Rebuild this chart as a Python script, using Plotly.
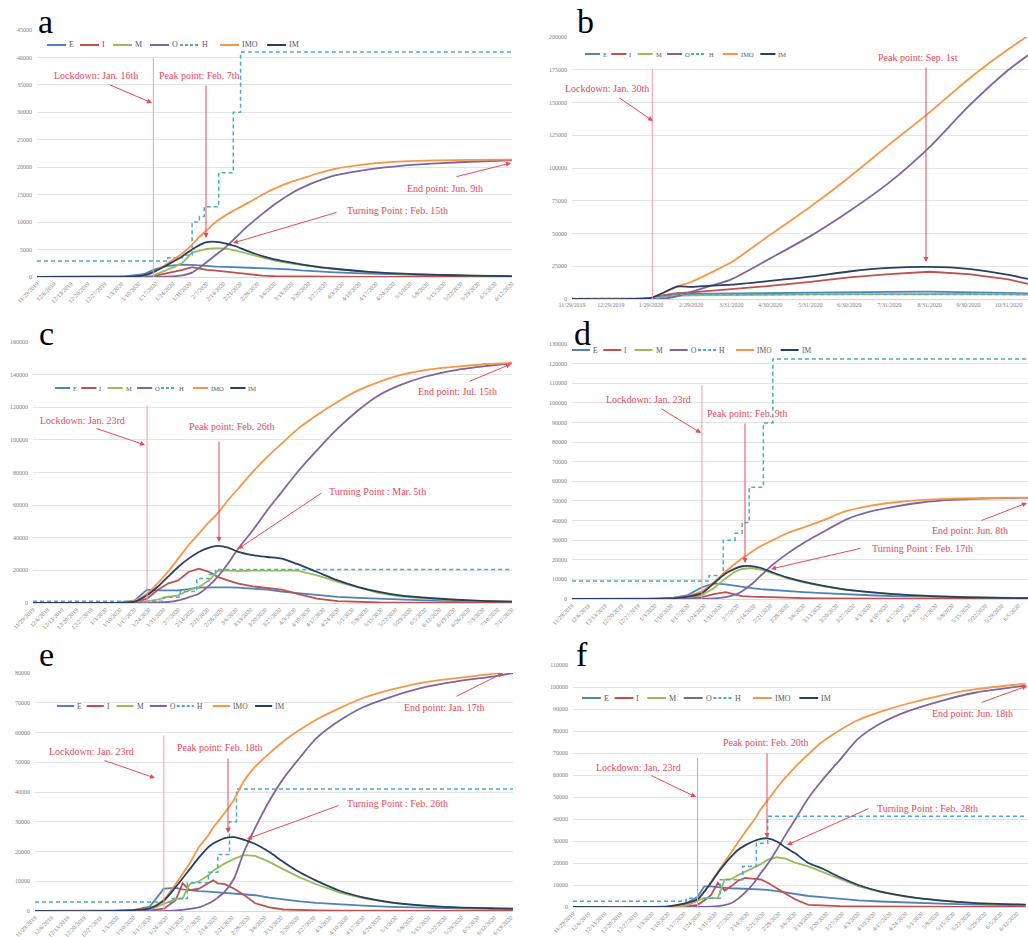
import plotly.graph_objects as go

W, H = 1028, 937
SERIES = ["E", "I", "M", "O", "H", "IMO", "IM"]
COLORS = {"E": "#4f81bd", "I": "#c0504d", "M": "#9bbb59", "O": "#8064a2",
          "H": "#4bacc6", "IMO": "#f79646", "IM": "#263f63"}
RED = "#e8485a"
LOCKC = "#f39aa6"
SERIF = "Liberation Serif"

# ---------------- panel a ----------------
a_dates = ["2019-11-29", "2019-12-20", "2020-01-05", "2020-01-12", "2020-01-16", "2020-01-21",
           "2020-01-25", "2020-01-28", "2020-02-01", "2020-02-04", "2020-02-07", "2020-02-11",
           "2020-02-15", "2020-02-19", "2020-02-24", "2020-03-01", "2020-03-06", "2020-03-12",
           "2020-03-17", "2020-03-24", "2020-03-31", "2020-04-14", "2020-04-28", "2020-05-12",
           "2020-05-26", "2020-06-12"]
a_E = [0, 10, 150, 500, 1300, 2000, 2200, 2250, 2200, 2100, 1950, 1900, 1850, 1800, 1700, 1600,
       1500, 1400, 1200, 1000, 850, 600, 420, 300, 200, 130]
a_I = [0, 0, 10, 50, 150, 600, 1000, 1300, 1800, 1500, 1300, 1150, 950, 800, 500, 250, 150, 100,
       80, 60, 50, 40, 30, 20, 15, 10]
a_M = [0, 0, 20, 100, 300, 1200, 1900, 2600, 4400, 4800, 5100, 5250, 5150, 4800, 4200, 3500, 3000,
       2550, 2200, 1750, 1420, 900, 570, 380, 240, 125]
a_O = [0, 0, 0, 0, 0, 50, 150, 300, 800, 1700, 2700, 4100, 5500, 7200, 9300, 11500, 13200, 15000,
       16200, 17500, 18500, 19600, 20300, 20700, 21000, 21250]
a_IMO = [0, 0, 50, 250, 900, 2200, 3400, 4300, 5900, 7300, 8500, 10100, 11300, 12300, 13500, 15000,
         16100, 17200, 17900, 18900, 19700, 20600, 21050, 21250, 21330, 21400]
a_IM = [0, 0, 50, 300, 900, 2000, 3000, 3800, 5000, 5800, 6350, 6400, 6100, 5600, 4700, 3800, 3200,
        2700, 2300, 1850, 1500, 950, 600, 400, 250, 130]
a_H_dates = ["2019-11-29", "2020-01-22", "2020-01-28", "2020-02-01", "2020-02-04", "2020-02-06",
             "2020-02-12", "2020-02-18", "2020-02-21", "2020-06-12"]
a_H = [2900, 3500, 4000, 10000, 11000, 12800, 19000, 30000, 41000, 41000]

# ---------------- panel b ----------------
b_dates = ["2019-11-29", "2020-01-15", "2020-01-29", "2020-02-08", "2020-02-18", "2020-02-29",
           "2020-03-15", "2020-03-31", "2020-04-30", "2020-05-31", "2020-06-30", "2020-07-31",
           "2020-08-31", "2020-09-30", "2020-10-31", "2020-11-15"]
b_E = [0, 0, 500, 2500, 3500, 3800, 4000, 4200, 4500, 5000, 5300, 5500, 5600, 5300, 4800, 4300]
b_I = [0, 0, 300, 3000, 4500, 5000, 6000, 7500, 10000, 13000, 16500, 19000, 20800, 19000, 15000, 11500]
b_M = [0, 0, 200, 1500, 2500, 2800, 3000, 3100, 3300, 3500, 3700, 3900, 4000, 3800, 3500, 3300]
b_O = [0, 0, 0, 300, 2000, 5500, 10000, 15000, 31000, 48000, 67000, 89000, 116000, 147000, 175000, 186000]
b_IMO = [0, 0, 800, 5000, 9500, 13000, 20000, 28000, 49000, 70500, 93000, 118000, 142500, 167800,
         190800, 200800]
b_IM = [0, 0, 800, 5000, 9500, 9300, 10200, 11000, 13800, 17000, 21000, 23700, 24500, 23000, 18400, 15300]
b_H_dates = ["2019-11-29", "2020-02-05", "2020-02-15", "2020-11-15"]
b_H = [300, 2000, 3500, 3500]
b_tickvals = ["2019-11-29", "2019-12-29", "2020-01-29", "2020-02-29", "2020-03-31", "2020-04-30",
              "2020-05-31", "2020-06-30", "2020-07-31", "2020-08-31", "2020-09-30", "2020-10-31"]
b_ticktext = ["11/29/2019", "12/29/2019", "1/29/2020", "2/29/2020", "3/31/2020", "4/30/2020",
              "5/31/2020", "6/30/2020", "7/31/2020", "8/31/2020", "9/30/2020", "10/31/2020"]

# ---------------- panel c ----------------
c_dates = ["2019-11-29", "2019-12-31", "2020-01-10", "2020-01-17", "2020-01-23", "2020-01-28",
           "2020-02-02", "2020-02-07", "2020-02-12", "2020-02-17", "2020-02-22", "2020-02-26",
           "2020-03-02", "2020-03-07", "2020-03-14", "2020-03-21", "2020-03-28", "2020-04-04",
           "2020-04-14", "2020-04-24", "2020-05-04", "2020-05-14", "2020-05-24", "2020-06-05",
           "2020-06-20", "2020-07-05", "2020-07-17"]
c_E = [0, 0, 100, 1600, 8200, 7800, 7800, 7800, 8500, 9400, 9600, 9800, 9600, 9400, 9000, 8200, 7000,
       6100, 4700, 3800, 3100, 2600, 2000, 1600, 1200, 1000, 800]
c_I = [0, 0, 0, 200, 2700, 7800, 11900, 13900, 19000, 21000, 19000, 16000, 13900, 11900, 10200, 9400,
       8200, 5700, 2700, 1200, 600, 300, 200, 100, 50, 30, 20]
c_M = [0, 0, 0, 100, 1000, 2000, 3700, 4700, 7800, 9800, 13900, 19600, 20000, 19600, 19800, 19600,
       19800, 20000, 17000, 12900, 9400, 6100, 4100, 2700, 1600, 1000, 800]
c_O = [0, 0, 0, 0, 0, 300, 600, 1600, 3500, 5700, 10800, 16000, 24100, 33400, 44600, 56900, 68100,
       79400, 93700, 107000, 118300, 127500, 133600, 138700, 142800, 145300, 146900]
c_IMO = [0, 0, 100, 1500, 5700, 11900, 19000, 27200, 35400, 42600, 49700, 54800, 63000, 70200, 80400,
         89600, 97800, 106000, 115200, 123400, 130500, 135600, 139700, 142800, 144900, 146500, 147300]
c_IM = [0, 0, 100, 800, 4700, 9800, 16000, 22100, 27200, 31300, 34000, 35000, 34000, 31300, 29300,
        28200, 27200, 24100, 19000, 13900, 9800, 6800, 4700, 3300, 2000, 1200, 800]
c_H_dates = ["2019-11-29", "2020-01-31", "2020-02-08", "2020-02-16", "2020-02-22", "2020-02-25",
             "2020-07-17"]
c_H = [1000, 3500, 7000, 15000, 17500, 20500, 20500]

# ---------------- panel d ----------------
d_dates = ["2019-11-29", "2019-12-31", "2020-01-10", "2020-01-17", "2020-01-23", "2020-01-28",
           "2020-02-02", "2020-02-06", "2020-02-09", "2020-02-13", "2020-02-17", "2020-02-22",
           "2020-02-28", "2020-03-06", "2020-03-14", "2020-03-24", "2020-04-03", "2020-04-13",
           "2020-04-25", "2020-05-08", "2020-05-22", "2020-06-09"]
d_E = [0, 0, 500, 2000, 6000, 8000, 7500, 6700, 6000, 5500, 5000, 4500, 4000, 3500, 3000, 2300, 1900,
       1500, 1200, 900, 700, 500]
d_I = [0, 0, 0, 300, 1000, 2500, 3500, 2500, 1500, 1200, 1000, 800, 600, 450, 300, 200, 150, 100, 80,
       60, 50, 40]
d_M = [0, 0, 200, 800, 2000, 5500, 10500, 14000, 15300, 15800, 15000, 13000, 10600, 8500, 6600, 4700,
       3400, 2400, 1650, 1050, 680, 380]
d_O = [0, 0, 0, 0, 0, 300, 1000, 2200, 4000, 7500, 12000, 17500, 23000, 28500, 34000, 40500, 44500,
       47000, 49200, 50500, 51200, 51600]
d_IMO = [0, 0, 300, 1500, 4000, 8500, 14000, 18000, 20800, 24000, 27000, 30000, 33500, 36500, 40000,
         44800, 47500, 49200, 50500, 51200, 51500, 51700]
d_IM = [0, 0, 300, 1200, 3000, 8000, 13000, 15500, 16700, 16800, 15800, 13500, 11000, 8800, 6800,
        4800, 3500, 2500, 1700, 1100, 700, 400]
d_H_dates = ["2019-11-29", "2020-01-26", "2020-02-01", "2020-02-06", "2020-02-09", "2020-02-12",
             "2020-02-18", "2020-02-22", "2020-06-09"]
d_H = [9200, 12000, 30000, 33500, 39000, 57000, 89700, 122400, 122400]

# ---------------- panel e ----------------
e_dates = ["2019-11-29", "2019-12-31", "2020-01-10", "2020-01-17", "2020-01-23", "2020-01-28",
           "2020-01-31", "2020-02-03", "2020-02-07", "2020-02-11", "2020-02-13", "2020-02-15",
           "2020-02-18", "2020-02-22", "2020-02-26", "2020-03-02", "2020-03-08", "2020-03-14",
           "2020-03-21", "2020-03-28", "2020-04-07", "2020-04-17", "2020-04-29", "2020-05-12",
           "2020-05-27", "2020-06-12", "2020-06-20"]
e_E = [0, 0, 300, 1500, 7500, 7800, 7300, 7000, 6700, 6500, 6400, 6300, 6200, 6000, 5700, 5300, 4500,
       3800, 3200, 2700, 2200, 1800, 1400, 1100, 900, 700, 600]
e_I = [0, 0, 0, 200, 800, 3600, 9300, 7000, 7500, 9500, 10300, 9300, 9000, 7500, 5500, 2600, 1200,
       500, 300, 200, 150, 120, 100, 80, 60, 50, 40]
e_M = [0, 0, 100, 500, 2500, 4000, 4200, 9000, 10000, 12000, 13500, 14500, 16000, 17500, 18800, 18500,
       16500, 14000, 11300, 9000, 6200, 4300, 2750, 1800, 1150, 850, 750]
e_O = [0, 0, 0, 0, 0, 200, 400, 700, 1200, 2500, 3400, 4500, 6500, 11000, 19500, 28000, 37000, 44500,
       51500, 58000, 64000, 68500, 72000, 75000, 77200, 78900, 80000]
e_IMO = [0, 0, 400, 1000, 3800, 9000, 12500, 16000, 21500, 25500, 28000, 30000, 33000, 37500, 43500,
         48500, 53000, 57000, 60900, 64300, 68200, 71600, 74400, 76700, 78300, 79800, 80800]
e_IM = [0, 0, 300, 900, 3500, 8000, 11000, 14000, 18000, 21500, 22700, 23500, 24500, 24800, 24000,
        22500, 19800, 16500, 13000, 10200, 6800, 4600, 2900, 1900, 1200, 900, 800]
e_H_dates = ["2019-11-29", "2020-01-26", "2020-02-02", "2020-02-11", "2020-02-15", "2020-02-20",
             "2020-02-23", "2020-06-20"]
e_H = [3000, 4200, 9500, 13000, 19000, 30000, 41000, 41000]

# ---------------- panel f ----------------
f_dates = ["2019-11-29", "2019-12-31", "2020-01-10", "2020-01-17", "2020-01-23", "2020-01-26",
           "2020-01-29", "2020-02-01", "2020-02-04", "2020-02-07", "2020-02-10", "2020-02-13",
           "2020-02-17", "2020-02-20", "2020-02-23", "2020-02-27", "2020-03-02", "2020-03-06",
           "2020-03-12", "2020-03-18", "2020-03-26", "2020-04-03", "2020-04-13", "2020-04-25",
           "2020-05-09", "2020-05-25", "2020-06-16"]
f_E = [0, 0, 200, 1000, 4500, 9400, 9400, 9000, 8600, 8500, 8400, 8300, 8200, 8000, 7800, 7200, 6500,
       5800, 5000, 4500, 3700, 3000, 2500, 2000, 1500, 1100, 800]
f_I = [0, 0, 0, 100, 1000, 3000, 5500, 11000, 7500, 9500, 12000, 13200, 12800, 12500, 11000, 8500,
       6000, 3500, 1000, 600, 400, 300, 200, 150, 100, 100, 80]
f_M = [0, 0, 100, 500, 3000, 4000, 4000, 4100, 12500, 12800, 14500, 16000, 18000, 19500, 21500, 22600,
       22000, 20200, 18500, 16000, 13000, 9500, 6800, 4500, 2900, 1700, 1000]
f_O = [0, 0, 0, 0, 50, 100, 200, 400, 900, 1800, 3800, 6500, 11000, 15500, 19500, 26000, 33000, 39500,
       49500, 57500, 67000, 76500, 83500, 89000, 93500, 97500, 100600]
f_IMO = [0, 0, 100, 500, 3000, 7000, 11500, 16000, 20500, 25000, 29500, 34000, 39500, 44500, 48500,
         54000, 59000, 63500, 69500, 75000, 80500, 85000, 88800, 92500, 96000, 99000, 101500]
f_IM = [0, 0, 300, 1500, 3500, 7000, 11000, 15500, 19500, 23000, 26000, 28000, 30000, 31000, 31200,
        29800, 27000, 24500, 20000, 17500, 13500, 10000, 7000, 4700, 3000, 1800, 1100]
f_H_dates = ["2019-11-29", "2020-01-18", "2020-02-02", "2020-02-12", "2020-02-18", "2020-02-23",
             "2020-06-16"]
f_H = [2600, 4000, 12400, 18500, 29000, 41200, 41200]

DATA = {
    "a": dict(dates=a_dates, E=a_E, I=a_I, M=a_M, O=a_O, IMO=a_IMO, IM=a_IM, Hd=a_H_dates, H=a_H),
    "b": dict(dates=b_dates, E=b_E, I=b_I, M=b_M, O=b_O, IMO=b_IMO, IM=b_IM, Hd=b_H_dates, H=b_H),
    "c": dict(dates=c_dates, E=c_E, I=c_I, M=c_M, O=c_O, IMO=c_IMO, IM=c_IM, Hd=c_H_dates, H=c_H),
    "d": dict(dates=d_dates, E=d_E, I=d_I, M=d_M, O=d_O, IMO=d_IMO, IM=d_IM, Hd=d_H_dates, H=d_H),
    "e": dict(dates=e_dates, E=e_E, I=e_I, M=e_M, O=e_O, IMO=e_IMO, IM=e_IM, Hd=e_H_dates, H=e_H),
    "f": dict(dates=f_dates, E=f_E, I=f_I, M=f_M, O=f_O, IMO=f_IMO, IM=f_IM, Hd=f_H_dates, H=f_H),
}

# layout of each panel (pixel boxes: left, right, top, bottom)
PANELS = [
    dict(key="a", box=(37, 512, 30, 277), ymax=45000, dtick=5000, xend="2020-06-12",
         lock="2020-01-16", locktop=40000, letter=(45, 21), legend=(47, 251, 45, 8)),
    dict(key="b", box=(572, 1028, 37, 299), ymax=200000, dtick=25000, xend="2020-11-15",
         lock="2020-01-30", locktop=175500, letter=(585, 21), legend=(585, 200, 54, 6.5)),
    dict(key="c", box=(33, 512, 342, 603), ymax=160000, dtick=20000, xend="2020-07-17",
         lock="2020-01-23", locktop=120800, letter=(46, 334), legend=(55, 200, 388, 6.5)),
    dict(key="d", box=(572, 1028, 344, 599), ymax=130000, dtick=10000, xend="2020-06-09",
         lock="2020-01-23", locktop=109000, letter=(582, 334), legend=(572, 238, 350, 7.5)),
    dict(key="e", box=(35, 513, 673, 911), ymax=80000, dtick=10000, xend="2020-06-20",
         lock="2020-01-23", locktop=59000, letter=(46, 654), legend=(57, 226, 706, 7.5)),
    dict(key="f", box=(573, 1028, 665, 907), ymax=110000, dtick=10000, xend="2020-06-17",
         lock="2020-01-23", locktop=67700, letter=(582, 654), legend=(582, 248, 698, 8)),
]

NOTES = {
    "a": [("Lockdown: Jan. 16th", 96, 75, (108, 84), (152, 103)),
          ("Peak point: Feb. 7th", 199, 75, (206, 84), (206, 238)),
          ("Turning Point : Feb. 15th", 397, 210, (338, 212), (233, 243)),
          ("End point: Jun. 9th", 445, 189, (455, 177), (511, 163))],
    "b": [("Lockdown: Jan. 30th", 607, 88, (618, 97), (653, 121)),
          ("Peak point: Sep. 1st", 918, 57, (926, 66), (926, 262))],
    "c": [("Lockdown: Jan. 23rd", 82, 420, (95, 428), (145, 445)),
          ("Peak point: Feb. 26th", 232, 426, (219, 440), (219, 542)),
          ("Turning Point : Mar. 5th", 377, 492, (323, 492), (238, 549)),
          ("End point: Jul. 15th", 457, 391, (468, 382), (511, 364))],
    "d": [("Lockdown: Jan. 23rd", 648, 399, (660, 408), (701, 433)),
          ("Peak point: Feb. 9th", 747, 413, (745, 422), (745, 563)),
          ("Turning Point : Feb. 17th", 922, 548, (862, 548), (771, 569)),
          ("End point: Jun. 8th", 970, 530, (980, 521), (1027, 503))],
    "e": [("Lockdown: Jan. 23rd", 91, 751, (103, 760), (155, 778)),
          ("Peak point: Feb. 18th", 220, 747, (228, 757), (228, 833)),
          ("Turning Point : Feb. 26th", 397, 803, (340, 805), (247, 839)),
          ("End point: Jan. 17th", 444, 707, (455, 697), (503, 673))],
    "f": [("Lockdown: Jan. 23rd", 638, 767, (650, 775), (696, 797)),
          ("Peak point: Feb. 20th", 766, 742, (767, 752), (767, 838)),
          ("Turning Point : Feb. 28th", 927, 808, (870, 808), (787, 845)),
          ("End point: Jun. 18th", 972, 713, (980, 703), (1027, 686))],
}

LEG_REL = [0, 33, 66, 103, 133, 173, 220]  # item offsets in a 251px-wide legend
LEG_LINE = 19


def px(x):
    return x / W


def py(y):
    return 1 - y / H


fig = go.Figure()
shapes, annotations = [], []
layout = {}

for k, p in enumerate(PANELS, start=1):
    sfx = "" if k == 1 else str(k)
    xa, ya = "x" + sfx, "y" + sfx
    d = DATA[p["key"]]
    for s in SERIES:
        if s == "H":
            fig.add_trace(go.Scatter(x=d["Hd"], y=d["H"], mode="lines", xaxis=xa, yaxis=ya,
                                     line=dict(color=COLORS[s], width=1.5, dash="4px,3px", shape="hv"),
                                     showlegend=False, name=s))
        else:
            smooth = s in ("IMO", "O", "IM")
            fig.add_trace(go.Scatter(x=d["dates"], y=d[s], mode="lines", xaxis=xa, yaxis=ya,
                                     line=dict(color=COLORS[s], width=1.8,
                                               shape="spline" if smooth else "linear",
                                               smoothing=0.7 if smooth else None),
                                     showlegend=False, name=s))
    l, r, t, b = p["box"]
    xdict = dict(domain=[px(l), px(r)], anchor=ya, type="date", automargin=False,
                 range=["2019-11-29", p["xend"]], showgrid=False, zeroline=False,
                 showline=True, linecolor="#d9d9d9", linewidth=1, ticks="",
                 tickfont=dict(family=SERIF, size=6, color="#808080"))
    if p["key"] == "b":
        xdict.update(tickmode="array", tickvals=b_tickvals, ticktext=b_ticktext, tickangle=0)
    else:
        xdict.update(tick0="2019-11-29", dtick=7 * 86400000, tickformat="%-m/%-d/%Y", tickangle=-45)
    layout["xaxis" + sfx] = xdict
    layout["yaxis" + sfx] = dict(domain=[py(b), py(t)], anchor=xa, range=[0, p["ymax"]],
                                 automargin=False,
                                 dtick=p["dtick"], tickformat="d", showgrid=True,
                                 gridcolor="#e4e4e4", gridwidth=1, zeroline=False, ticks="",
                                 ticklabelstandoff=4,
                                 tickfont=dict(family=SERIF, size=6, color="#808080"))
    # lockdown line
    shapes.append(dict(type="line", xref=xa, yref=ya, x0=p["lock"], x1=p["lock"], y0=0,
                       y1=p["locktop"], line=dict(color=LOCKC, width=1)))
    # notes
    for text, cx, cy, tail, tip in NOTES[p["key"]]:
        annotations.append(dict(x=px(cx), y=py(cy), xref="paper", yref="paper", text=text,
                                showarrow=False, xanchor="center", yanchor="middle",
                                font=dict(family=SERIF, size=10, color=RED)))
        annotations.append(dict(x=px(tip[0]), y=py(tip[1]), xref="paper", yref="paper", text="",
                                showarrow=True, ax=tail[0] - tip[0], ay=tail[1] - tip[1],
                                arrowhead=2, arrowsize=1, arrowwidth=1, arrowcolor=RED,
                                standoff=0, startstandoff=0))
    # panel letter
    lx, ly = p["letter"]
    annotations.append(dict(x=px(lx), y=py(ly), xref="paper", yref="paper", text=p["key"],
                            showarrow=False, xanchor="center", yanchor="middle",
                            font=dict(family=SERIF, size=34, color="black")))
    # legend
    x0, wid, yl, fs = p["legend"]
    sc = wid / 251.0
    for i, s in enumerate(SERIES):
        st = x0 + LEG_REL[i] * sc
        shapes.append(dict(type="line", xref="paper", yref="paper", x0=px(st),
                           x1=px(st + LEG_LINE * sc), y0=py(yl), y1=py(yl),
                           line=dict(color=COLORS[s], width=2,
                                     dash="3px,2px" if s == "H" else "solid")))
        annotations.append(dict(x=px(st + LEG_LINE * sc + 1), y=py(yl), xref="paper", yref="paper",
                                text=s, showarrow=False, xanchor="left", yanchor="middle",
                                font=dict(family=SERIF, size=fs, color="#595959")))

fig.update_layout(**layout)
fig.update_layout(width=W, height=H, margin=dict(l=0, r=0, t=0, b=0, autoexpand=False),
                  paper_bgcolor="white", plot_bgcolor="white",
                  shapes=shapes, annotations=annotations, showlegend=False,
                  font=dict(family=SERIF))

fig.write_html("out.html", config={"displayModeBar": False},
               post_script="document.body.style.margin='0';document.body.style.overflow='hidden';")
